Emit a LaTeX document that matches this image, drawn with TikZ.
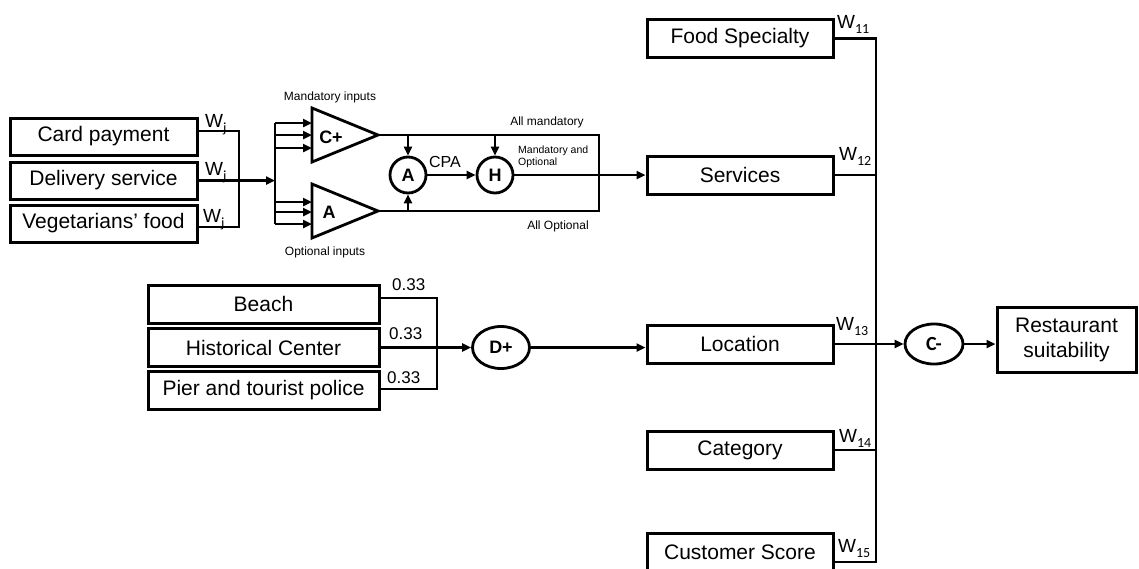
\documentclass[tikz,border=0pt]{standalone}
\usepackage{fontspec}
\setmainfont{Liberation Sans}
\newfontfamily\calib{Carlito}
\usetikzlibrary{arrows.meta,shapes.geometric,calc}

% weight label: W with a lowered subscript
\newcommand{\wsub}[1]{W\raisebox{-5pt}{\calib\fontsize{14}{14}\selectfont #1}}

\begin{document}
\begin{tikzpicture}[x=1pt,y=-1pt,
  box/.style={draw,line width=3pt,minimum width=186pt,minimum height=38pt,
    inner sep=0pt,font=\fontsize{21}{25}\selectfont},
  wire/.style={line width=2.4pt},
  arr/.style={wire,-{Triangle[length=9pt,width=8pt]}},
  op/.style={draw,line width=2.8pt,inner sep=0pt,
    font=\bfseries\fontsize{18}{20}\selectfont},
  tri/.style={draw,line width=2.8pt,line join=miter},
  wlab/.style={anchor=base west,inner sep=0pt,font=\fontsize{19}{20}\selectfont},
  nlab/.style={anchor=base west,inner sep=0pt,font=\fontsize{17}{20}\selectfont},
  small/.style={inner sep=0pt,font=\fontsize{12}{14}\selectfont},
]
\useasboundingbox (0,0) rectangle (1139,568);

% ---------------- service inputs ----------------
\node[box,minimum width=187pt,minimum height=37pt] (card)  at (103.5,136.5) {Card payment};
\node[box,minimum width=187pt,minimum height=37pt] (deliv) at (103.5,180.5) {Delivery service};
\node[box,minimum width=187pt,minimum height=37pt] (veg)   at (103.5,223.5) {Vegetarians’ food};

\coordinate (cardo) at ([yshift=5.5pt]card.east);
\coordinate (vego)  at ([yshift=-3.5pt]veg.east);
\coordinate (jbar)  at (239,180.5);
\draw[wire] (cardo) -| (vego -| jbar) -- (vego);

\node[wlab] (wa) at (205,127) {\wsub{j}};
\node[wlab] (wb) at (205,175) {\wsub{j}};
\node[wlab] (wc) at (203,222) {\wsub{j}};

% input bracket feeding both aggregators
\coordinate (brtop) at (275,123);
\coordinate (brbot) at (275,224);
\draw[arr] (deliv.east) -- (deliv.east -| brtop);
\draw[wire] (brtop) -- (brbot);
\foreach \y in {123,135,148,202,212,224}
  \draw[arr] (brtop |- 0,\y) -- (312,\y);

% aggregator triangles
\draw[tri] (312,108) -- (378,135) -- (312,162) -- cycle;
\draw[tri] (312,184) -- (378,211) -- (312,238) -- cycle;
\node[op,draw=none] (cplus) at (331,137) {C+};
\node[op,draw=none] (aopt)  at (329,212) {A};
\coordinate (cptip) at (378,135);
\coordinate (aptip) at (378,211);
\coordinate (rbar)  at (599,0);
\draw[wire] (cptip) -- (cptip -| rbar) -- (aptip -| rbar) -- (aptip);

\node[small] (mi) at (330,97)  {Mandatory inputs};
\node[small] (oi) at (325,252) {Optional inputs};
\node[small] (am) at (547,122) {All mandatory};
\node[small] (ao) at (558,226) {All Optional};
\node[small,anchor=west,align=left,font=\fontsize{10.5}{12}\selectfont]
  (mo) at (518,157) {Mandatory and\\Optional};

% conjunctive partial absorption
\node[op,circle,minimum size=36pt] (ca) at (408,175) {A};
\node[op,circle,minimum size=36pt] (ch) at (495,175) {H};
\node[inner sep=0pt,font=\fontsize{16}{18}\selectfont] (cpa) at (445,162) {CPA};
\draw[arr] (ca.north |- cptip) -- (ca.north);
\draw[arr] (ca.south |- aptip) -- (ca.south);
\draw[arr] (ca.east) -- (ch.west);
\draw[arr] (ch.north |- cptip) -- (ch.north);

% ---------------- location inputs ----------------
\node[box,minimum width=231pt] (beach) at (263.5,304)   {Beach};
\node[box,minimum width=231pt] (hist)  at (263.5,347.5) {Historical Center};
\node[box,minimum width=231pt] (pier)  at (263.5,390.5) {Pier and tourist police};

\coordinate (beacho) at ([yshift=6pt]beach.east);
\coordinate (piero)  at ([yshift=1.5pt]pier.east);
\coordinate (dbus)   at (437,0);
\draw[wire] (beacho) -| (piero -| dbus) -- (piero);

\node[nlab] (n1) at (392,290) {0.33};
\node[nlab] (n2) at (389,339) {0.33};
\node[nlab] (n3) at (387,383) {0.33};

\node[op,ellipse,minimum width=57pt,minimum height=42pt] (dplus) at (501,347.5) {D+};
\draw[arr] (hist.east) -- (dplus.west);

% ---------------- second level ----------------
\node[box] (food) at (740,38.5) {Food Specialty};
\node[box] (serv) at (740,175)  {Services};
\node[box] (loc)  at (740,344)  {Location};
\node[box] (cat)  at (740,450)  {Category};
\node[box] (cust) at (740,552.5){Customer Score};

\draw[arr] (ch.east) -- (ch.east -| serv.west);
\draw[arr] (dplus.east) -- (dplus.east -| loc.west);

\coordinate (rbus)  at (876,0);
\coordinate (custo) at ([yshift=-9.5pt]cust.east);
\draw[wire] (food.east) -| (custo -| rbus) -- (custo);
\draw[wire] (serv.east) -- (serv.east -| rbus);
\draw[wire] (cat.east)  -- (cat.east -| rbus);

\node[wlab] (w11) at (837,28)  {\wsub{11}};
\node[wlab] (w12) at (839,160) {\wsub{12}};
\node[wlab] (w13) at (836,330) {\wsub{13}};
\node[wlab] (w14) at (839,442) {\wsub{14}};
\node[wlab] (w15) at (838,552) {\wsub{15}};

\node[op,ellipse,minimum width=58pt,minimum height=40pt,
  font=\calib\bfseries\fontsize{20}{20}\selectfont] (cm) at (934,344) {C-};
\draw[arr] (loc.east) -- (cm.west);

\node[box,minimum width=139pt,minimum height=65pt,align=center] (rest)
  at (1066.5,339.5) {Restaurant\\suitability};
\draw[arr] (cm.east) -- (cm.east -| rest.west);
\end{tikzpicture}
\end{document}
